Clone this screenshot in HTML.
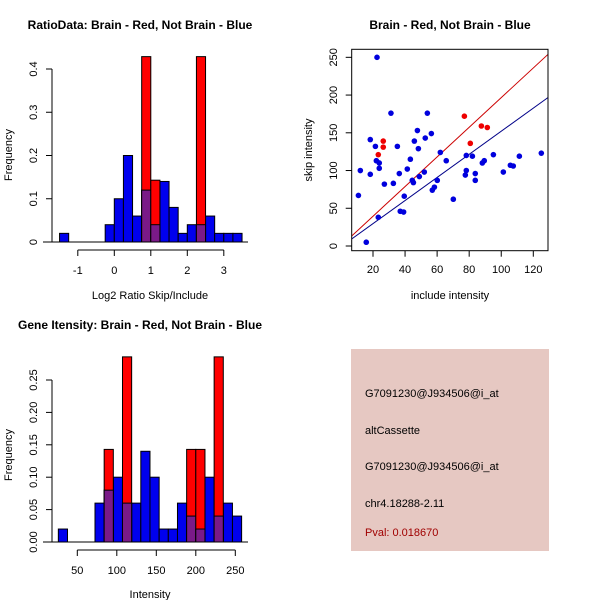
<!DOCTYPE html>
<html><head><meta charset="utf-8"><style>
body{margin:0;background:#fff;}
svg{display:block;font-family:"Liberation Sans",Arial,sans-serif;}
</style></head><body>
<svg id="s" width="600" height="600" viewBox="0 0 600 600">
<rect x="0" y="0" width="600" height="600" fill="#fff"/>
<text x="140" y="29" font-size="12" font-weight="bold" text-anchor="middle">RatioData: Brain - Red, Not Brain - Blue</text>
<text x="450" y="29" font-size="12" font-weight="bold" text-anchor="middle">Brain - Red, Not Brain - Blue</text>
<text x="140" y="329" font-size="12" font-weight="bold" text-anchor="middle">Gene Itensity: Brain - Red, Not Brain - Blue</text>
<text x="150" y="299" font-size="11" text-anchor="middle">Log2 Ratio Skip/Include</text>
<text x="150" y="598" font-size="11" text-anchor="middle">Intensity</text>
<text x="450" y="299" font-size="11" text-anchor="middle">include intensity</text>
<text transform="translate(12,155) rotate(-90)" font-size="11" text-anchor="middle">Frequency</text>
<text transform="translate(12,455) rotate(-90)" font-size="11" text-anchor="middle">Frequency</text>
<text transform="translate(312,150) rotate(-90)" font-size="11" text-anchor="middle">skip intensity</text>
<g>
<rect x="351" y="349" width="198" height="202" fill="#e6c8c2"/>
<text x="365" y="397" font-size="11">G7091230@J934506@i_at</text>
<text x="365" y="434" font-size="11">altCassette</text>
<text x="365" y="470" font-size="11">G7091230@J934506@i_at</text>
<text x="365" y="507" font-size="11">chr4.18288-2.11</text>
<text x="365" y="536" font-size="11" fill="#a00000">Pval: 0.018670</text>
</g>
</svg>
<script>
// Ratio histogram data
const ratioBinStart = -1.5;
const ratioBinWidth = 0.25;
const ratioBlue = [0.02,0,0,0,0,0.04,0.1,0.2,0.06,0.12,0.04,0.14,0.08,0.02,0.04,0.04,0.06,0.02,0.02,0.02];
const ratioRed  = [0,0,0,0,0,0,0,0,0,0.4286,0.1429,0,0,0,0,0.4286,0,0,0,0];
const ratioXTicks = [-1,0,1,2,3];
const ratioYTicks = [0,0.1,0.2,0.3,0.4];
// Intensity histogram data
const intBinStart = 26;
const intBinWidth = 11.6;
const intBlue = [0.02,0,0,0,0.06,0.08,0.1,0.06,0.06,0.14,0.1,0.02,0.02,0.06,0.04,0.02,0.1,0.04,0.06,0.04];
const intRed  = [0,0,0,0,0,0.1429,0,0.2857,0,0,0,0,0,0,0.1429,0.1429,0,0.2857,0,0];
const intXTicks = [50,100,150,200,250];
const intYTicks = [0,0.05,0.10,0.15,0.20,0.25];
const intYLabels = ["0.00","0.05","0.10","0.15","0.20","0.25"];
// Scatter data
const blueX = [10.9,12.1,15.8,18.3,18.3,21.5,22.5,22.1,23.9,23.9,23.3,27.1,31.2,32.7,35.2,36.4,37.0,39.1,39.5,41.4,43.3,44.5,45.2,45.8,47.7,48.3,48.9,52.0,52.6,53.9,56.4,57.0,58.3,60.1,62.0,65.7,70.1,77.6,78.2,78.2,82.0,83.8,83.8,88.2,89.4,95.1,101.3,105.7,107.5,111.3,125.0];
const blueY = [67,100,5,141,95,132,250,113,110,103,38,82,176,83,132,96,46,45,66,102,115,87,84,139,153,129,92,98,143,176,149,74,78,87,124,113,62,94,100,120,119,96,87,110,113,121,98,107,106,119,123];
const redX = [23.3,26.4,26.4,77,80.7,87.6,91.3];
const redY = [121,139,131,172,136,159,157];
const lineSlopes = [1.965,1.53];
const lineIntercepts = [0.1,-0.9];
const scXTicks = [20,40,60,80,100,120];
const scYTicks = [0,50,100,150,200,250];

const NS="http://www.w3.org/2000/svg";
const svg=document.getElementById('s');
function mk(tag,attrs,parent){const e=document.createElementNS(NS,tag);for(const k in attrs)e.setAttribute(k,attrs[k]);(parent||svg).appendChild(e);return e;}

function hist(name,binStart,binW,blue,red,xT,yT,yL,sx,sy,yTop,xAxisY,baseLeft,baseRight){
  const g=mk('g',{});
  
  
  for(let i=0;i<blue.length;i++){
    const x0=sx(binStart+i*binW),x1=sx(binStart+(i+1)*binW);
    if(blue[i]>0){const r=mk('rect',{x:x0,y:sy(blue[i]),width:x1-x0,height:sy(0)-sy(blue[i]),fill:'#0000ee',stroke:'#000','stroke-width':1},g);
      
      }
  }
  for(let i=0;i<red.length;i++){
    if(red[i]<=0)continue;
    const x0=sx(binStart+i*binW),x1=sx(binStart+(i+1)*binW);
    const r=mk('rect',{x:x0,y:sy(red[i]),width:x1-x0,height:sy(0)-sy(red[i]),fill:'#ff0000',stroke:'#000','stroke-width':1},g);
    
    
    const m=Math.min(red[i],blue[i]);
    if(m>0){const p=mk('rect',{x:x0,y:sy(m),width:x1-x0,height:sy(0)-sy(m),fill:'#7a1a88',stroke:'#000','stroke-width':1},g);
      
      }
  }
  const b=mk('line',{x1:baseLeft,x2:baseRight,y1:sy(0),y2:sy(0),stroke:'#000'},g);
  
  
  const ya=mk('line',{x1:52,x2:52,y1:sy(yT[0]),y2:sy(yT[yT.length-1]),stroke:'#000'},g);
  
  
  yT.forEach((v,i)=>{
    const t=mk('line',{x1:46,x2:52,y1:sy(v),y2:sy(v),stroke:'#000'},g);
    
    
    const l=mk('text',{transform:`translate(37,${sy(v)}) rotate(-90)`,'font-size':11,'text-anchor':'middle'},g);
    l.textContent=yL[i];
    
    
  });
  const xa=mk('line',{x1:sx(xT[0]),x2:sx(xT[xT.length-1]),y1:xAxisY,y2:xAxisY,stroke:'#000'},g);
  
  
  xT.forEach(v=>{
    const t=mk('line',{x1:sx(v),x2:sx(v),y1:xAxisY,y2:xAxisY+6,stroke:'#000'},g);
    
    
    const l=mk('text',{x:sx(v),y:xAxisY+24,'font-size':11,'text-anchor':'middle'},g);
    l.textContent=String(v);
    
    
  });
}
hist('ratio-histogram',ratioBinStart,ratioBinWidth,ratioBlue,ratioRed,ratioXTicks,ratioYTicks,ratioYTicks.map(String),
  v=>114.3+v*36.5, v=>242-v*432.5, 0.4, 250, 43, 248);
hist('intensity-histogram',intBinStart,intBinWidth,intBlue,intRed,intXTicks,intYTicks,intYLabels,
  v=>77.3+(v-50)*0.79, v=>542-v*648, 0.25, 550, 43, 248);

// scatter
const sX=v=>373+(v-20)*1.603, sY=v=>246-v*0.7547;
const sg=mk('g',{});


const clip=mk('clipPath',{id:'cp'},sg);
mk('rect',{x:351.7,y:49.3,width:196.3,height:201.4},clip);
const lineColors=['#cc0000','#000088'];
lineSlopes.forEach((s,i)=>{
  const x0=6.7,x1=129.2;
  const ln=mk('line',{x1:sX(x0),y1:sY(lineIntercepts[i]+s*x0),x2:sX(x1),y2:sY(lineIntercepts[i]+s*x1),stroke:lineColors[i],'stroke-width':1,'clip-path':'url(#cp)'},sg);
  
  
});
blueX.forEach((x,i)=>{
  const c=mk('circle',{cx:sX(x),cy:sY(blueY[i]),r:2.8,fill:'#0000dd'},sg);
  
  
});
redX.forEach((x,i)=>{
  const c=mk('circle',{cx:sX(x),cy:sY(redY[i]),r:2.8,fill:'#ee0000'},sg);
  
  
});
const box=mk('rect',{x:351.7,y:49.3,width:196.3,height:201.4,fill:'none',stroke:'#000'},sg);


scXTicks.forEach(v=>{
  const t=mk('line',{x1:sX(v),x2:sX(v),y1:250.7,y2:256.7,stroke:'#000'},sg);
  
  
  const l=mk('text',{x:sX(v),y:273,'font-size':11,'text-anchor':'middle'},sg);
  l.textContent=String(v);
  
  
});
scYTicks.forEach(v=>{
  const t=mk('line',{x1:345.7,x2:351.7,y1:sY(v),y2:sY(v),stroke:'#000'},sg);
  
  
  const l=mk('text',{transform:`translate(337,${sY(v)}) rotate(-90)`,'font-size':11,'text-anchor':'middle'},sg);
  l.textContent=String(v);
  
  
});
</script>
</body></html>
